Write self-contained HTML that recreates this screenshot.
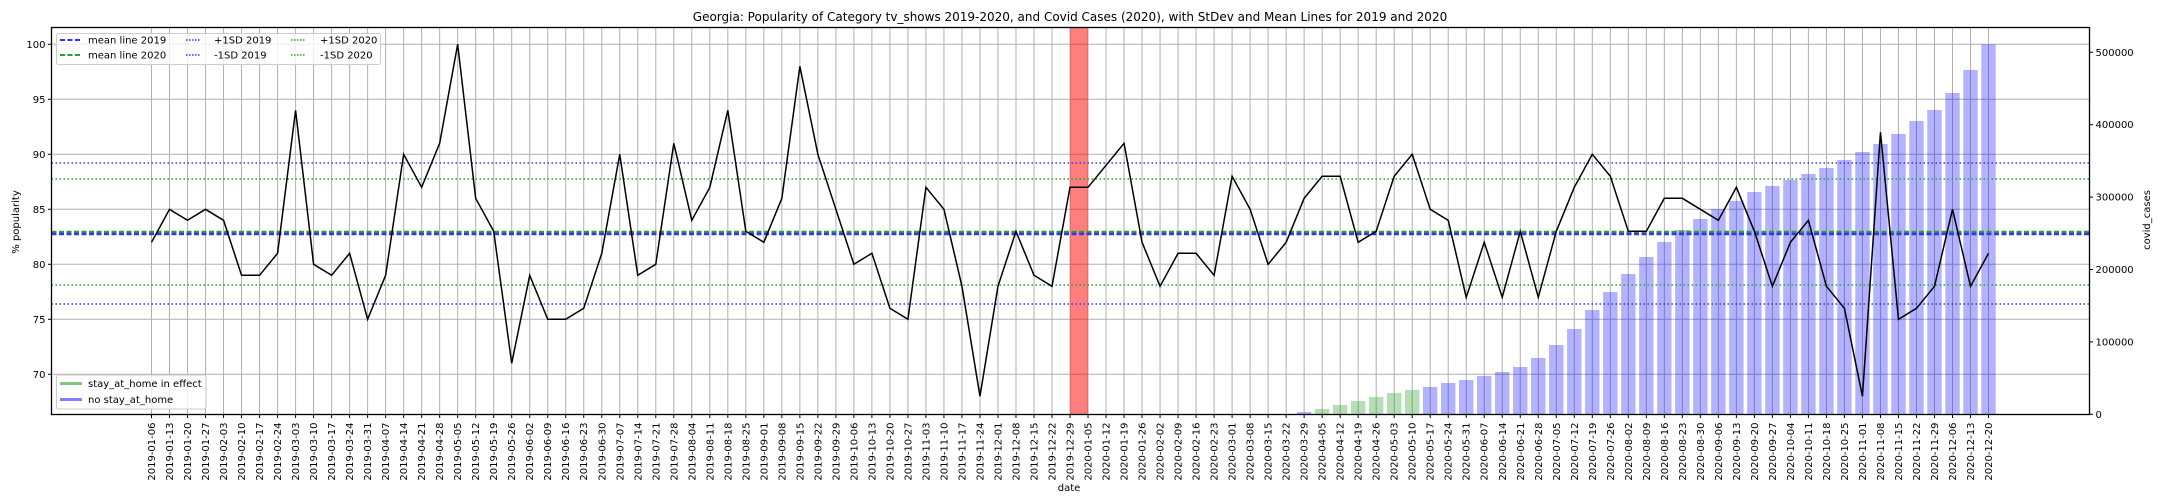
<!DOCTYPE html>
<html><head><meta charset="utf-8">
<style>
html,body{margin:0;padding:0;background:#fff;}
svg{display:block;font-family:"DejaVu Sans","Liberation Sans",sans-serif;}
</style></head>
<body>
<svg id="chart" width="2160" height="504" viewBox="0 0 2160 504" xmlns="http://www.w3.org/2000/svg">
<text x="1070" y="21" font-size="12" text-anchor="middle">Georgia: Popularity of Category tv_shows 2019-2020, and Covid Cases (2020), with StDev and Mean Lines for 2019 and 2020</text>
<g id="grid"></g>
<g id="bars"></g>
<g id="span"></g>
<g id="hlines"></g>
<g id="line"></g>
<g id="axes"></g>
<text transform="translate(19,222) rotate(-90)" font-size="10" text-anchor="middle">% popularity</text>
<text transform="translate(2150,220) rotate(-90)" font-size="10" text-anchor="middle">covid_cases</text>
<text x="1069" y="491" font-size="10" text-anchor="middle">date</text>
<g>
<rect x="56.5" y="33.5" width="324" height="31" rx="2" fill="#fff" fill-opacity="0.8" stroke="#ccc"/>
<line x1="60" y1="40" x2="80" y2="40" stroke="#3333ff" stroke-width="2" stroke-dasharray="5,2.5"/>
<text x="88" y="43.5" font-size="10">mean line 2019</text>
<line x1="60" y1="55" x2="80" y2="55" stroke="#2ca02c" stroke-width="2" stroke-dasharray="5,2.5"/>
<text x="88" y="58.5" font-size="10">mean line 2020</text>
<line x1="186" y1="40" x2="201" y2="40" stroke="#3333ff" stroke-width="1.5" stroke-dasharray="1.5,1.5"/>
<text x="214" y="43.5" font-size="10">+1SD 2019</text>
<line x1="186" y1="55" x2="201" y2="55" stroke="#3333ff" stroke-width="1.5" stroke-dasharray="1.5,1.5"/>
<text x="214" y="58.5" font-size="10">-1SD 2019</text>
<line x1="291" y1="40" x2="306" y2="40" stroke="#2ca02c" stroke-width="1.5" stroke-dasharray="1.5,1.5"/>
<text x="320" y="43.5" font-size="10">+1SD 2020</text>
<line x1="291" y1="55" x2="306" y2="55" stroke="#2ca02c" stroke-width="1.5" stroke-dasharray="1.5,1.5"/>
<text x="320" y="58.5" font-size="10">-1SD 2020</text>
</g>
<g>
<rect x="56.5" y="375" width="149.5" height="34" rx="2" fill="#fff" fill-opacity="0.8" stroke="#ccc"/>
<line x1="60" y1="383.5" x2="82" y2="383.5" stroke="#7fc97f" stroke-width="3"/>
<text x="88" y="387" font-size="10">stay_at_home in effect</text>
<line x1="60" y1="399.5" x2="82" y2="399.5" stroke="#7f7fff" stroke-width="3"/>
<text x="88" y="403" font-size="10">no stay_at_home</text>
</g>
</svg>
<script>
const pop2019 = [82,85,84,85,84,79,79,81,94,80,79,81,75,79,90,87,91,100,86,83,71,79,75,75,76,81,90,79,80,91,84,87,94,83,82,86,98,90,85,80,81,76,75,87,85,78,68,78,83,79,78,87];
const pop2020 = [87,89,91,82,78,81,81,79,88,85,80,82,86,88,88,82,83,88,90,85,84,77,82,77,83,77,83,87,90,88,83,83,86,86,85,84,87,83,78,82,84,78,76,68,92,75,76,78,85,78,81];
const casesStartIndex = 12; // 2020-03-29 within 2020 series
const cases = [3200,7400,12900,18400,23900,29500,33600,37800,43300,47400,52900,58500,65400,77800,95800,117900,144100,169000,193800,217300,238000,254600,269800,283600,294700,307100,315400,323700,332000,340200,351300,362300,373400,387200,405200,420300,443800,475600,511000];
const stayAtHome = [false,true,true,true,true,true,true,false];
const stats = {mean2019:82.76, mean2020:82.94, sdUp2019:89.21, sdDn2019:76.39, sdUp2020:87.76, sdDn2020:78.12};
const yTicks = [70,75,80,85,90,95,100];
const y2Ticks = [0,100000,200000,300000,400000,500000];

const NS='http://www.w3.org/2000/svg';
const L=51.5,R=2089.5,T=27.5,B=414.5;
const x0=151.5, dx=18.01;
const X=i=>x0+i*dx;
const Y=v=>44.3+(100-v)*11;
const Y2=v=>414.3-v*(362/500000);
function mk(tag,attrs,parent){const e=document.createElementNS(NS,tag);for(const k in attrs)e.setAttribute(k,attrs[k]);parent.appendChild(e);return e;}

function dates(){const out=[];let d=new Date(Date.UTC(2019,0,6));for(let i=0;i<pop2019.length+pop2020.length;i++){out.push(d.toISOString().slice(0,10));d=new Date(d.getTime()+7*864e5);}return out;}
const labels=dates();
const pop=pop2019.concat(pop2020);

const grid=document.getElementById('grid');
labels.forEach((lb,i)=>{const g=mk('line',{x1:X(i),x2:X(i),y1:T,y2:B,stroke:'#b0b0b0','stroke-width':1},grid);

});
yTicks.forEach(v=>{const g=mk('line',{x1:L,x2:R,y1:Y(v),y2:Y(v),stroke:'#b0b0b0','stroke-width':1},grid);

});

const bars=document.getElementById('bars');
const off=pop2019.length+casesStartIndex;
cases.forEach((c,k)=>{const i=off+k;const green=stayAtHome[k]===true;
const r=mk('rect',{x:X(i)-7.2,width:14.4,y:Y2(c),height:Y2(0)-Y2(c),fill:green?'#2ca02c':'#0000ff','fill-opacity':green?0.35:0.3},bars);

});

const span=document.getElementById('span');
const sp=mk('rect',{x:X(51),width:X(52)-X(51),y:T,height:B-T,fill:'#ff0000','fill-opacity':0.5},span);



const hl=document.getElementById('hlines');
[['sdUp2019','#3333ff','1.5,2.5',1.5],['sdDn2019','#3333ff','1.5,2.5',1.5],['sdUp2020','#2ca02c','1.5,2.5',1.5],['sdDn2020','#2ca02c','1.5,2.5',1.5],['mean2020','#2ca02c','5,2.5',2.5],['mean2019','#3333ff','5,2.5',2.5]].forEach(s=>{
const l=mk('line',{x1:L,x2:R,y1:Y(stats[s[0]]),y2:Y(stats[s[0]]),stroke:s[1],'stroke-width':s[3],'stroke-dasharray':s[2]},hl);

});

const lg=document.getElementById('line');
const pl=mk('polyline',{points:pop.map((v,i)=>X(i)+','+Y(v)).join(' '),fill:'none',stroke:'#000','stroke-width':1.5},lg);



const ax=document.getElementById('axes');
mk('rect',{x:L,y:T,width:R-L,height:B-T,fill:'none',stroke:'#000','stroke-width':1.3},ax);
yTicks.forEach(v=>{mk('line',{x1:L-3.5,x2:L,y1:Y(v),y2:Y(v),stroke:'#000'},ax);
const t=mk('text',{x:L-6,y:Y(v)+3.5,'font-size':10,'text-anchor':'end'},ax);t.textContent=v;

});
y2Ticks.forEach(v=>{mk('line',{x1:R,x2:R+3.5,y1:Y2(v),y2:Y2(v),stroke:'#000'},ax);
const t=mk('text',{x:R+6,y:Y2(v)+3.5,'font-size':10},ax);t.textContent=v;

});
labels.forEach((lb,i)=>{mk('line',{x1:X(i),x2:X(i),y1:B,y2:B+3.5,stroke:'#000'},ax);
const t=mk('text',{transform:'translate('+(X(i)+3.5)+','+(B+8)+') rotate(-90)','font-size':10,'text-anchor':'end'},ax);t.textContent=lb;

});
</script>
</body></html>
